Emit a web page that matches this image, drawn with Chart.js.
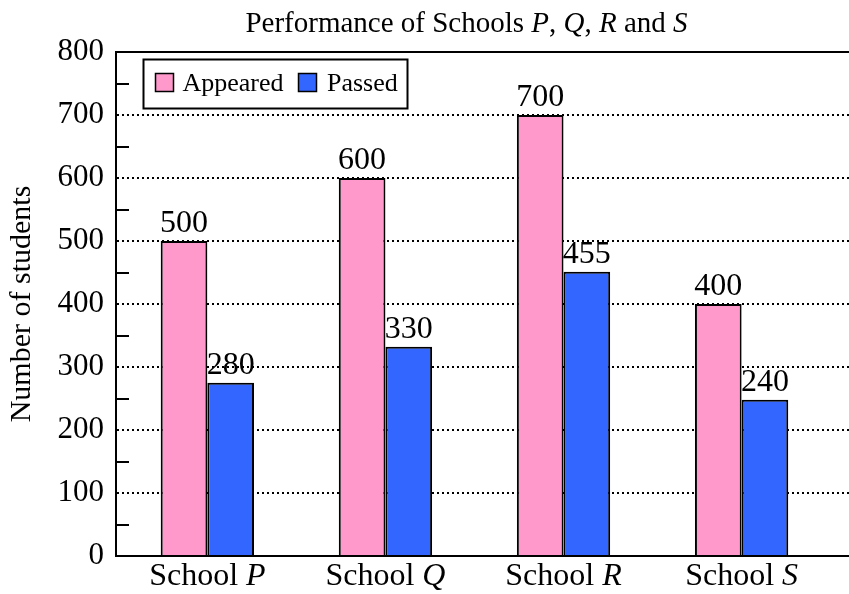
<!DOCTYPE html>
<html><head><meta charset="utf-8">
<script src="https://cdn.jsdelivr.net/npm/chart.js@4/dist/chart.umd.min.js"></script>
<style>html,body{margin:0;padding:0;background:#fff;} canvas{display:block}</style>
</head><body>
<canvas id="c" width="849" height="594"></canvas>
<script>
// ---- data ----
const schoolLetters = ["P", "Q", "R", "S"];
const categoryPrefix = "School";
const appeared = [500, 600, 700, 400];
const passed = [275, 332, 451, 248];
const appearedLabels = ["500", "600", "700", "400"];
const passedLabels = ["280", "330", "455", "240"];
const seriesNames = ["Appeared", "Passed"];
const yMinorTicks = [50, 150, 250, 350, 450, 550, 650, 750];
const titleParts = [["Performance of Schools ", false], ["P", true], [", ", false], ["Q", true], [", ", false], ["R", true], [" and ", false], ["S", true]];
const yAxisTitle = "Number of students";

const PINK = "#FF99CC", BLUE = "#3366FF";
const FONT = "Liberation Serif";

function drawParts(ctx, parts, cx, y, size) {
  let total = 0;
  const widths = parts.map(([t, it]) => {
    ctx.font = (it ? "italic " : "") + size + "px '" + FONT + "'";
    const w = ctx.measureText(t).width; total += w; return w;
  });
  let x = cx - total / 2;
  parts.forEach(([t, it], i) => {
    ctx.font = (it ? "italic " : "") + size + "px '" + FONT + "'";
    ctx.fillText(t, x, y); x += widths[i];
  });
}

const decor = {
  id: "decor",
  afterDraw(chart) {
    const ctx = chart.ctx, a = chart.chartArea;
    const xs = chart.scales.x, ys = chart.scales.y;
    ctx.save();
    ctx.strokeStyle = "#000"; ctx.fillStyle = "#000";
    ctx.lineWidth = 2;
    ctx.beginPath(); ctx.moveTo(a.left - 1, a.top); ctx.lineTo(chart.width, a.top); ctx.stroke();
    yMinorTicks.forEach(v => {
      const y = Math.round(ys.getPixelForValue(v));
      ctx.beginPath(); ctx.moveTo(a.left, y); ctx.lineTo(a.left + 13, y); ctx.stroke();
    });
    ctx.textAlign = "center"; ctx.textBaseline = "alphabetic";
    ctx.font = "32px '" + FONT + "'";
    [appearedLabels, passedLabels].forEach((labels, di) => {
      chart.getDatasetMeta(di).data.forEach((el, i) => {
        ctx.fillText(labels[i], el.x, el.y - 9);
      });
    });
    ctx.textAlign = "left";
    schoolLetters.forEach((L, i) => {
      drawParts(ctx, [[categoryPrefix + " ", false], [L, true]], xs.getPixelForValue(i), 585, 32);
    });
    drawParts(ctx, titleParts, 466.5, 32, 29);
    ctx.lineWidth = 2;
    ctx.strokeRect(143.5, 59.5, 264, 49);
    ctx.font = "26px '" + FONT + "'";
    const items = [[155.5, 182.5, PINK], [298.5, 327, BLUE]];
    items.forEach(([bx, tx, col], i) => {
      ctx.fillStyle = col; ctx.fillRect(bx, 73.5, 18, 18);
      ctx.lineWidth = 1.5; ctx.strokeRect(bx, 73.5, 18, 18);
      ctx.fillStyle = "#000"; ctx.fillText(seriesNames[i], tx, 91);
    });
    ctx.restore();
  }
};

function build() {
  new Chart(document.getElementById("c"), {
    type: "bar",
    data: {
      datasets: [
        { label: seriesNames[0], data: appeared.map((v, i) => ({ x: i, y: v })), backgroundColor: PINK, borderColor: "#000", borderWidth: 2 },
        { label: seriesNames[1], data: passed.map((v, i) => ({ x: i, y: v })), backgroundColor: BLUE, borderColor: "#000", borderWidth: 2 }
      ]
    },
    options: {
      responsive: false, devicePixelRatio: 1, animation: false,
      layout: { padding: { top: 52, left: 0, right: 0, bottom: 0 } },
      datasets: { bar: { categoryPercentage: 0.524, barPercentage: 1 } },
      plugins: { legend: { display: false }, tooltip: { enabled: false }, title: { display: false } },
      scales: {
        x: {
          type: "linear", min: -0.513, max: 3.603, offset: false,
          grid: { display: false, offset: false },
          border: { display: true, color: "#000", width: 2 },
          ticks: { display: false, stepSize: 1, includeBounds: false },
          afterFit: s => { s.height = 38; }
        },
        y: {
          min: 0, max: 800,
          ticks: { stepSize: 100, color: "#000", font: { family: FONT, size: 31 }, padding: 12 },
          grid: {
            color: c => (c.tick && (c.tick.value === 0 || c.tick.value === 800)) ? "rgba(0,0,0,0)" : "#000",
            lineWidth: 2, drawTicks: false
          },
          border: { display: true, color: "#000", width: 2, dash: [2, 3] },
          title: { display: true, text: yAxisTitle, color: "#000", font: { family: FONT, size: 30 }, padding: { top: 4, bottom: 0 } },
          afterFit: s => { s.width = 116; }
        }
      }
    },
    plugins: [decor]
  });
}
const loads = ["29px", "italic 29px"].map(p => document.fonts.load(p + " '" + FONT + "'").catch(() => null));
Promise.all(loads).then(build, build);
</script>
</body></html>
